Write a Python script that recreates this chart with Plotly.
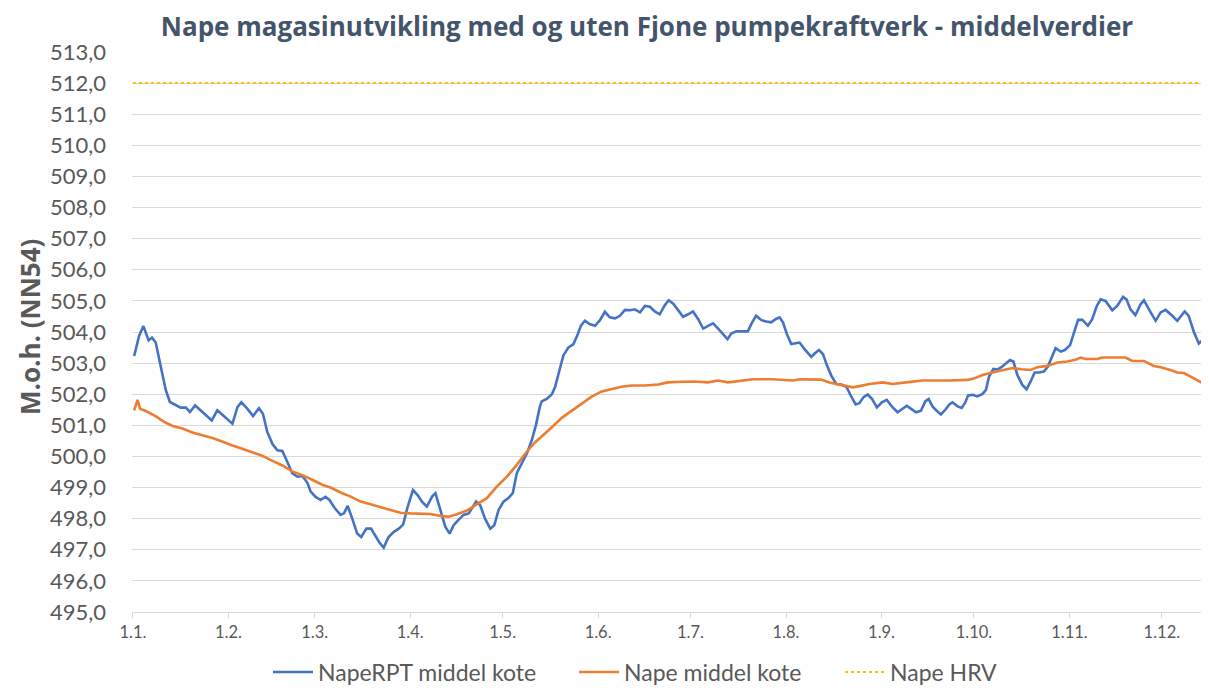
import plotly.graph_objects as go

# ---------------- data (day of year, Jan 1 = 0) ----------------
days_rpt = [0.4, 2.0, 3.4, 5.1, 6.2, 7.4, 9.1, 10.7, 12.0, 13.9, 15.5, 17.2, 18.5, 20.2, 22.0, 23.6,
            25.6, 27.4, 29.0, 30.7, 32.3, 33.9, 35.2, 37.2, 39.0, 40.9, 42.2, 43.6, 45.3, 46.9, 48.5,
            50.1, 51.7, 53.4, 55.0, 56.6, 57.7, 59.3, 60.9, 62.5, 63.8, 65.5, 67.4, 68.5, 69.7, 71.2,
            72.8, 74.1, 75.8, 77.3, 78.7, 80.1, 81.4, 83.0, 84.6, 86.3, 87.7, 89.2, 90.9, 92.4, 93.8,
            95.4, 97.1, 98.2, 99.8, 101.4, 102.8, 104.1, 105.7, 107.3, 109.0, 110.0, 111.4, 112.7,
            114.3, 116.0, 117.3, 118.7, 120.3, 121.9, 123.3, 124.6, 126.2, 127.9, 129.5, 130.8, 132.1,
            132.7, 134.3, 136.0, 137.0, 138.3, 139.7, 141.3, 143.0, 144.4, 145.4, 146.7, 148.4, 150.0,
            151.6, 153.2, 154.8, 156.5, 158.1, 159.7, 161.3, 162.9, 164.6, 166.2, 167.8, 169.4, 171.0,
            172.7, 173.9, 175.4, 177.0, 178.6, 180.2, 181.8, 183.5, 185.1, 186.7, 188.3, 189.9, 191.6,
            193.0, 194.2, 195.9, 199.6, 201.0, 202.3, 204.0, 205.6, 207.2, 208.6, 209.9, 211.0, 212.3,
            213.7, 215.1, 216.4, 218.0, 220.2, 221.3, 222.7, 224.0, 225.3, 226.7, 228.3, 229.9, 231.6,
            233.2, 234.6, 235.8, 237.1, 238.5, 239.9, 241.5, 243.1, 244.7, 246.4, 248.2, 249.9, 251.2,
            252.6, 254.2, 255.8, 257.2, 258.3, 259.6, 260.9, 262.3, 263.7, 265.0, 266.0, 267.7, 269.0,
            270.1, 271.1, 272.5, 274.1, 275.8, 276.9, 277.9, 279.3, 280.6, 281.9, 283.3, 284.7, 285.8,
            287.1, 288.7, 290.1, 291.4, 292.7, 294.1, 295.7, 297.0, 298.4, 299.5, 301.2, 302.5, 304.2,
            305.5, 306.8, 308.2, 310.0, 311.4, 312.8, 314.1, 315.7, 317.9, 319.5, 321.4, 322.5, 323.8,
            325.4, 327.1, 328.2, 329.8, 332.0, 333.6, 335.2, 337.4, 339.0, 341.4, 342.7, 344.4, 346.0,
            347.4, 348.9]
nape_rpt_kote = [503.23, 503.87, 504.19, 503.73, 503.82, 503.66, 502.86, 502.12, 501.75, 501.64, 501.57,
                 501.57, 501.43, 501.64, 501.48, 501.32, 501.16, 501.48, 501.34, 501.18, 501.05, 501.58,
                 501.74, 501.53, 501.30, 501.55, 501.37, 500.79, 500.40, 500.20, 500.18, 499.83, 499.46,
                 499.35, 499.37, 499.16, 498.87, 498.70, 498.60, 498.70, 498.60, 498.34, 498.12, 498.17,
                 498.41, 498.00, 497.52, 497.41, 497.68, 497.68, 497.46, 497.22, 497.07, 497.41, 497.57,
                 497.68, 497.81, 498.39, 498.92, 498.76, 498.55, 498.39, 498.71, 498.82, 498.28, 497.74,
                 497.52, 497.79, 497.96, 498.12, 498.17, 498.33, 498.55, 498.44, 498.00, 497.68, 497.79,
                 498.28, 498.55, 498.66, 498.82, 499.46, 499.78, 500.10, 500.53, 501.00, 501.60, 501.77,
                 501.85, 502.00, 502.22, 502.76, 503.24, 503.50, 503.61, 503.93, 504.20, 504.36, 504.25,
                 504.20, 504.38, 504.65, 504.47, 504.44, 504.52, 504.71, 504.70, 504.73, 504.63, 504.84,
                 504.81, 504.66, 504.57, 504.87, 505.02, 504.91, 504.68, 504.49, 504.57, 504.66, 504.41,
                 504.11, 504.20, 504.28, 504.12, 503.93, 503.77, 503.95, 504.02, 504.02, 504.31, 504.52,
                 504.38, 504.34, 504.31, 504.41, 504.47, 504.31, 503.93, 503.61, 503.63, 503.66, 503.45,
                 503.20, 503.31, 503.42, 503.29, 502.92, 502.60, 502.33, 502.31, 502.24, 501.92, 501.67,
                 501.71, 501.90, 501.99, 501.85, 501.58, 501.74, 501.82, 501.60, 501.42, 501.53, 501.63,
                 501.53, 501.42, 501.47, 501.77, 501.85, 501.60, 501.47, 501.35, 501.50, 501.67, 501.74,
                 501.61, 501.56, 501.72, 501.96, 501.98, 501.93, 502.01, 502.14, 502.57, 502.81, 502.79,
                 502.87, 503.00, 503.10, 503.05, 502.62, 502.30, 502.16, 502.41, 502.70, 502.70, 502.73,
                 502.89, 503.21, 503.48, 503.37, 503.42, 503.58, 503.96, 504.39, 504.39, 504.20, 504.41,
                 504.82, 505.05, 505.00, 504.70, 504.84, 505.13, 505.05, 504.73, 504.54, 504.89, 505.02,
                 504.73, 504.36, 504.63, 504.71, 504.52, 504.36, 504.66, 504.52, 504.00, 503.63, 503.76,
                 503.58]

days_nape = [0.4, 1.5, 2.3, 4.2, 7.5, 10.1, 12.9, 16.1, 19.3, 22.6, 25.8, 29.0, 32.3, 35.5, 38.8, 42.0,
             45.3, 48.5, 51.7, 55.0, 58.2, 61.4, 64.1, 67.4, 70.7, 73.9, 77.1, 80.4, 83.6, 86.8, 90.1,
             93.3, 96.5, 99.8, 102.5, 105.2, 108.4, 111.7, 114.9, 118.1, 121.4, 124.6, 127.9, 130.5,
             132.7, 136.0, 139.2, 142.4, 145.7, 148.9, 152.2, 155.4, 158.6, 161.9, 166.2, 170.5, 173.7,
             178.1, 182.4, 186.7, 189.9, 193.2, 197.0, 201.3, 207.7, 212.1, 214.2, 216.4, 220.7, 223.4,
             226.1, 229.3, 231.6, 233.7, 235.8, 239.1, 243.4, 246.6, 251.0, 256.3, 265.0, 271.0, 273.1,
             275.8, 279.0, 282.3, 285.5, 288.5, 291.4, 293.6, 296.8, 300.1, 303.3, 306.0, 307.6, 309.3,
             313.0, 314.6, 322.2, 324.4, 328.2, 331.4, 333.6, 336.8, 339.0, 341.2, 343.3, 346.6, 348.9]
nape_kote = [501.48, 501.82, 501.53, 501.46, 501.29, 501.11, 500.98, 500.90, 500.77, 500.69, 500.59,
             500.48, 500.35, 500.25, 500.13, 500.02, 499.86, 499.71, 499.52, 499.40, 499.25, 499.09,
             499.00, 498.84, 498.71, 498.55, 498.46, 498.37, 498.28, 498.19, 498.17, 498.15, 498.15,
             498.09, 498.06, 498.14, 498.26, 498.47, 498.66, 499.03, 499.35, 499.73, 500.16, 500.45,
             500.64, 500.94, 501.24, 501.47, 501.71, 501.92, 502.09, 502.17, 502.24, 502.28, 502.28,
             502.31, 502.38, 502.40, 502.41, 502.38, 502.44, 502.38, 502.42, 502.48, 502.48, 502.46,
             502.44, 502.48, 502.48, 502.47, 502.38, 502.31, 502.28, 502.22, 502.26, 502.33, 502.38,
             502.33, 502.38, 502.44, 502.44, 502.46, 502.51, 502.62, 502.70, 502.76, 502.84, 502.80,
             502.78, 502.87, 502.91, 503.02, 503.05, 503.11, 503.18, 503.13, 503.13, 503.18, 503.18,
             503.07, 503.07, 502.91, 502.87, 502.78, 502.70, 502.68, 502.57, 502.38, 502.27]

hrv_days = [0, 365]
hrv_kote = [512, 512]

month_start_days = [0, 31, 59, 90, 120, 151, 181, 212, 243, 273, 304, 334]
month_labels = ["1.1.", "1.2.", "1.3.", "1.4.", "1.5.", "1.6.", "1.7.", "1.8.", "1.9.",
                "1.10.", "1.11.", "1.12."]
y_tick_values = list(range(495, 514))
y_tick_labels = [f"{v},0" for v in y_tick_values]

FONT = "Lato"
TFONT = "Open Sans"
GREY = "#595959"
GRID = "#D9D9D9"

# The page body adds an 8 px offset; work in window pixels and convert.
OFF = 8
W, H = 1209 - OFF, 688 - OFF
PLOT_LEFT, PLOT_RIGHT, PLOT_TOP, PLOT_BOTTOM = 132, 1209, 52, 612   # window pixels
L = PLOT_LEFT - OFF
R = 1209 - PLOT_RIGHT
T = PLOT_TOP - OFF
B = H - (PLOT_BOTTOM - OFF)
PW = W - L - R
PH = H - T - B


def px_x(px):
    return (px - OFF - L) / PW


def px_y(py):
    return (H - B - (py - OFF)) / PH


fig = go.Figure()
fig.add_trace(go.Scatter(x=days_rpt, y=nape_rpt_kote, mode="lines", name="NapeRPT middel kote",
                         line=dict(color="#4472C4", width=2.6), legend="legend"))
fig.add_trace(go.Scatter(x=days_nape, y=nape_kote, mode="lines", name="Nape middel kote",
                         line=dict(color="#ED7D31", width=2.6), legend="legend2"))
fig.add_trace(go.Scatter(x=hrv_days, y=hrv_kote, mode="lines", name="Nape HRV",
                         line=dict(color="#FFC000", width=2, dash="dot"), legend="legend3"))

leg_common = dict(orientation="h", xanchor="left", yanchor="middle", y=px_y(672),
                  font=dict(family=FONT, size=23, color=GREY), bgcolor="rgba(0,0,0,0)",
                  itemwidth=40)

fig.update_layout(
    width=W, height=H,
    margin=dict(l=L, r=R, t=T, b=B, autoexpand=False),
    paper_bgcolor="white", plot_bgcolor="white",
    font=dict(family=FONT, color=GREY),
    title=dict(text="Nape magasinutvikling med og uten Fjone pumpekraftverk - middelverdier",
               x=(647 - OFF) / W, xanchor="center", xref="container",
               y=1 - (27 - OFF) / H, yanchor="middle", yref="container",
               font=dict(family=TFONT, size=26, color="#44546A", weight="bold")),
    showlegend=True,
    legend=dict(x=px_x(268), **leg_common),
    legend2=dict(x=px_x(574), **leg_common),
    legend3=dict(x=px_x(840), **leg_common),
    annotations=[dict(text="M.o.h. (NN54)", textangle=-90, xref="paper", yref="paper",
                      x=px_x(30), y=px_y(327), xanchor="center", yanchor="middle",
                      showarrow=False,
                      font=dict(family=TFONT, size=26, color=GREY, weight="bold"))],
)
fig.update_xaxes(range=[-0.3, 349.3], tickvals=month_start_days, ticktext=month_labels,
                 showgrid=False, zeroline=False, showline=True, linecolor=GRID, linewidth=1,
                 ticks="outside", ticklen=5, tickcolor=GRID, automargin=False,
                 tickfont=dict(family=FONT, size=16.5, color=GREY))
fig.update_yaxes(range=[495, 513], tickvals=y_tick_values, ticktext=y_tick_labels,
                 showgrid=True, gridcolor=GRID, gridwidth=1, zeroline=False, showline=False,
                 ticks="", ticklabelstandoff=25, automargin=False,
                 tickfont=dict(family=FONT, size=22, color=GREY))

fig.write_html("out.html")
